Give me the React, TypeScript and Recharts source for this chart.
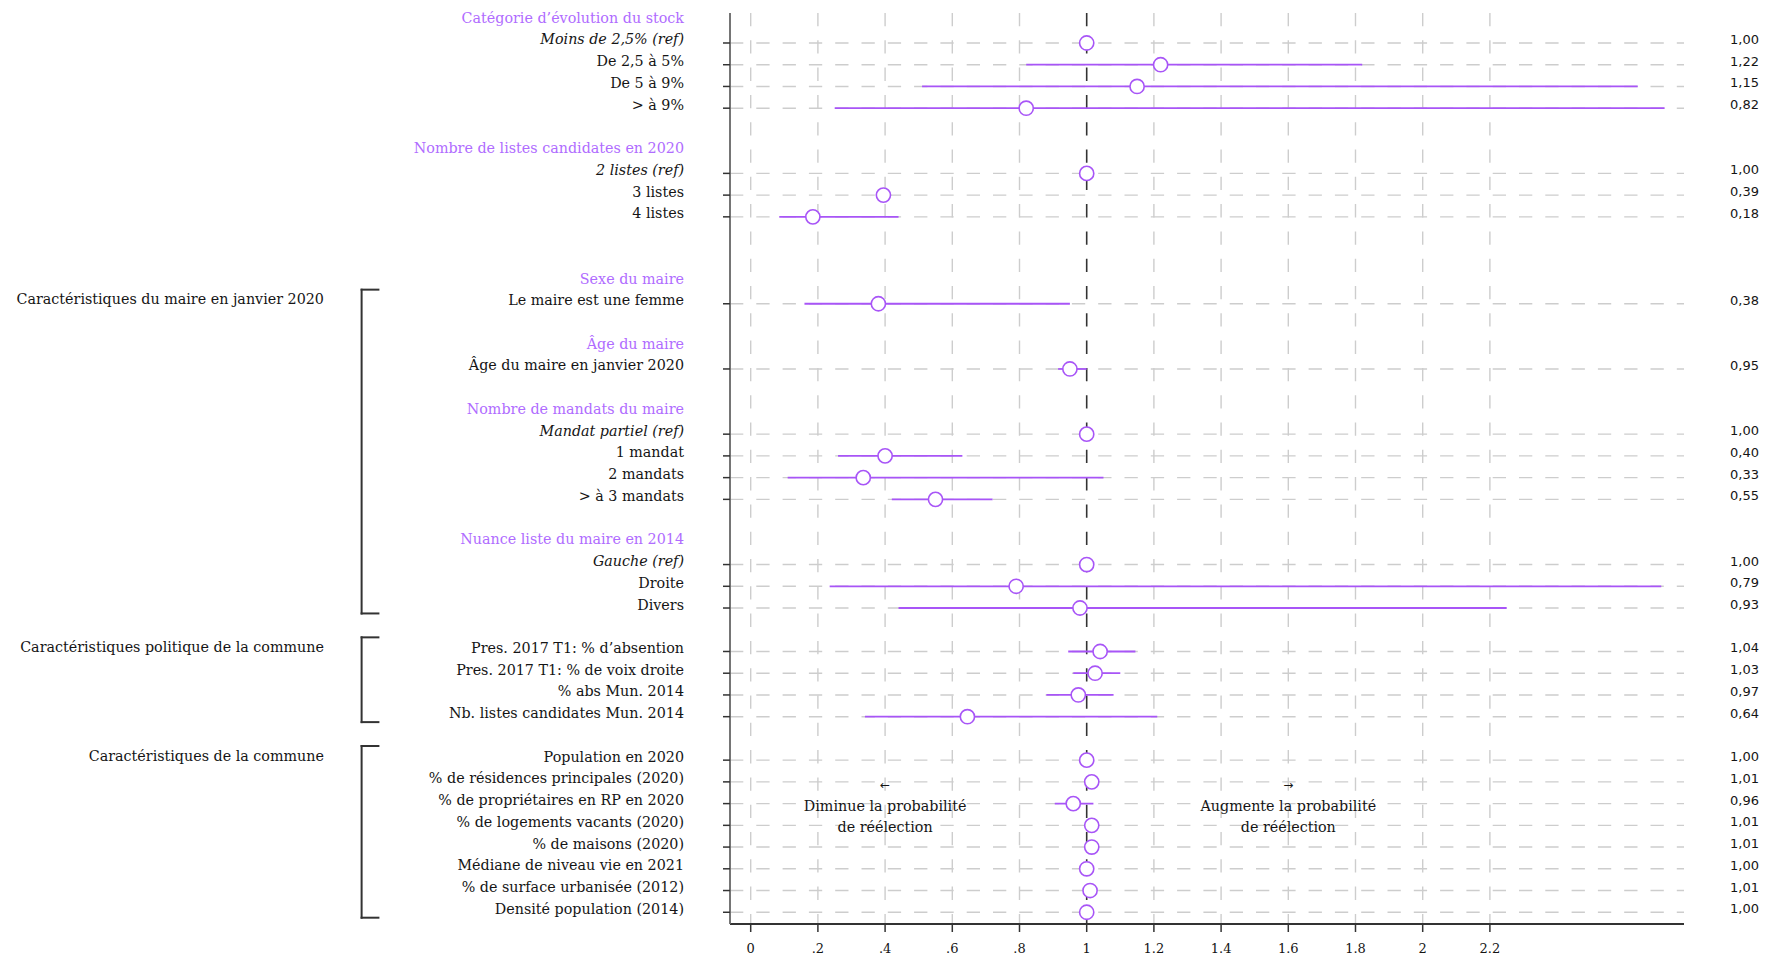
import React from 'react'
import { ScatterChart, Scatter, XAxis, YAxis, CartesianGrid, ErrorBar, ReferenceLine, ReferenceDot } from 'recharts'

// rows from top to bottom, '' is an empty spacer row
const rowLabels = [
  'Catégorie d’évolution du stock',
  'Moins de 2,5% (ref)',
  'De 2,5 à 5%',
  'De 5 à 9%',
  '> à 9%',
  '',
  'Nombre de listes candidates en 2020',
  '2 listes (ref)',
  '3 listes',
  '4 listes',
  '',
  '',
  'Sexe du maire',
  'Le maire est une femme',
  '',
  'Âge du maire',
  'Âge du maire en janvier 2020',
  '',
  'Nombre de mandats du maire',
  'Mandat partiel (ref)',
  '1 mandat',
  '2 mandats',
  '> à 3 mandats',
  '',
  'Nuance liste du maire en 2014',
  'Gauche (ref)',
  'Droite',
  'Divers',
  '',
  'Pres. 2017 T1: % d’absention',
  'Pres. 2017 T1: % de voix droite',
  '% abs Mun. 2014',
  'Nb. listes candidates Mun. 2014',
  '',
  'Population en 2020',
  '% de résidences principales (2020)',
  '% de propriétaires en RP en 2020',
  '% de logements vacants (2020)',
  '% de maisons (2020)',
  'Médiane de niveau vie en 2021',
  '% de surface urbanisée (2012)',
  'Densité population (2014)',
]

const headerLabels = [
  'Catégorie d’évolution du stock',
  'Nombre de listes candidates en 2020',
  'Sexe du maire',
  'Âge du maire',
  'Nombre de mandats du maire',
  'Nuance liste du maire en 2014',
]

const groupLabels = [
  'Caractéristiques du maire en janvier 2020',
  'Caractéristiques politique de la commune',
  'Caractéristiques de la commune',
]
const groupFirst = ['Le maire est une femme', 'Pres. 2017 T1: % d’absention', 'Population en 2020']
const groupLast = ['Divers', 'Nb. listes candidates Mun. 2014', 'Densité population (2014)']

// one value per item row (headers and spacers excluded), in row order
const estimates = [1.0, 1.22, 1.15, 0.82, 1.0, 0.395, 0.185, 0.38, 0.95, 1.0, 0.4, 0.335, 0.55, 1.0, 0.79, 0.98, 1.04, 1.025, 0.975, 0.645, 1.0, 1.015, 0.96, 1.015, 1.015, 1.0, 1.01, 1.0]
const printedOR = [1.0, 1.22, 1.15, 0.82, 1.0, 0.39, 0.18, 0.38, 0.95, 1.0, 0.4, 0.33, 0.55, 1.0, 0.79, 0.93, 1.04, 1.03, 0.97, 0.64, 1.0, 1.01, 0.96, 1.01, 1.01, 1.0, 1.01, 1.0]
const ciLow = [null, 0.82, 0.51, 0.25, null, null, 0.085, 0.16, 0.915, null, 0.26, 0.11, 0.42, null, 0.235, 0.44, 0.945, 0.96, 0.88, 0.34, null, null, 0.905, null, null, null, null, null]
const ciHigh = [null, 1.82, 2.64, 2.72, null, null, 0.44, 0.95, 1.0, null, 0.63, 1.05, 0.72, null, 2.71, 2.25, 1.145, 1.1, 1.08, 1.21, null, null, 1.02, null, null, null, null, null]

const xTicks = [0, 0.2, 0.4, 0.6, 0.8, 1, 1.2, 1.4, 1.6, 1.8, 2, 2.2]

const arrowLabels = ['←', '→']
const arrowX = [0.4, 1.6]
const noteLines = [['Diminue la probabilité', 'de réélection'], ['Augmente la probabilité', 'de réélection']]

const SERIF = "'DejaVu Serif', serif"
const SANS = "'DejaVu Sans', sans-serif"
const PURPLE = '#a855f7'
const HEADER_PURPLE = '#b06cff'
const INK = '#151515'
const FS = 14.3

const X_DOMAIN = [-0.0616, 2.7777]
const Y_DOMAIN = [-0.38, 41.54]
const GROUP_LABEL_X = -1.27
const BRACKET_X = -1.158
const BRACKET_TIP_X = -1.108

const rowOf = (label: string) => rowLabels.indexOf(label)
const itemLabels = rowLabels.filter(l => l && !headerLabels.includes(l))
const yTicks = rowLabels.map((l, i) => (l ? i : -1)).filter(i => i >= 0)

const points = itemLabels.map((label, i) => ({
  row: rowOf(label),
  est: estimates[i],
  lo: ciLow[i],
  hi: ciHigh[i],
}))
const ciPoints = points
  .filter(p => p.lo != null && p.hi != null)
  .map(p => ({ ...p, err: [p.est - (p.lo as number), (p.hi as number) - p.est] }))

const fmtX = (v: number) => String(v).replace(/^0\./, '.')
const fmtOR = (v: number) => v.toFixed(2).replace('.', ',')

const LeftTick = (props: any) => {
  const { x, y, payload } = props
  const label = rowLabels[payload.value]
  if (headerLabels.includes(label)) {
    return (
      <text x={x - 39} y={y + 1.5} textAnchor="end" fill={HEADER_PURPLE} fontFamily={SERIF} fontSize={FS}>
        {label}
      </text>
    )
  }
  return (
    <g>
      <line x1={x} x2={x + 7} y1={y} y2={y} stroke="#333" strokeWidth={1.5} />
      <text x={x - 39} y={y + 1.5} textAnchor="end" fill={INK} fontFamily={SERIF} fontSize={FS}
        fontStyle={label.includes('(ref)') ? 'italic' : 'normal'}>
        {label}
      </text>
    </g>
  )
}

const RightTick = (props: any) => {
  const { x, y, payload } = props
  const label = rowLabels[payload.value]
  const i = itemLabels.indexOf(label)
  if (i < 0) return <g />
  return (
    <text x={x + 46} y={y + 1} textAnchor="start" fill={INK} fontFamily={SANS} fontSize={13}>
      {fmtOR(printedOR[i])}
    </text>
  )
}

const BottomTick = (props: any) => {
  const { x, y, payload } = props
  return (
    <text x={x} y={y + 20.7} textAnchor="middle" fill={INK} fontFamily={SERIF} fontSize={13}>
      {fmtX(payload.value)}
    </text>
  )
}

const gridV = (p: any) => {
  const isOne = xTicks[p.index] === 1
  return (
    <line key={`v${p.index}`} x1={p.x1} y1={p.y1} x2={p.x2} y2={p.y2}
      stroke={isOne ? '#333' : '#cdcdcd'} strokeWidth={isOne ? 1.6 : 1.4} strokeDasharray="13.3 14" />
  )
}

const gridH = (p: any) => {
  if (headerLabels.includes(rowLabels[yTicks[p.index]])) return <g key={`h${p.index}`} />
  return (
    <line key={`h${p.index}`} x1={p.x1} y1={p.y1} x2={p.x2} y2={p.y2}
      stroke="#cdcdcd" strokeWidth={1.4} strokeDasharray="13.3 13" />
  )
}

const App = () => {
  return (
    <div style={{ position: 'absolute', left: 0, top: 0 }}>
      <ScatterChart width={1782} height={957} margin={{ top: 13, right: 0, bottom: 0, left: 0 }}>
        <CartesianGrid vertical={gridV} horizontal={gridH} syncWithTicks />
        <XAxis type="number" dataKey="est" domain={X_DOMAIN} allowDataOverflow ticks={xTicks} interval={0}
          height={33} tickSize={8} tickMargin={0} axisLine={{ stroke: '#333', strokeWidth: 1.8 }}
          tickLine={{ stroke: '#333', strokeWidth: 1.5 }} tick={<BottomTick />} />
        <YAxis type="number" dataKey="row" domain={Y_DOMAIN} allowDataOverflow reversed ticks={yTicks} interval={0}
          width={730} tickSize={7} tickMargin={0} tickLine={false} axisLine={{ stroke: '#666', strokeWidth: 1.8 }}
          tick={<LeftTick />} />
        <YAxis yAxisId="right" orientation="right" type="number" dataKey="row" domain={Y_DOMAIN} allowDataOverflow
          reversed ticks={yTicks} interval={0} width={98} tickSize={0} tickMargin={0} tickLine={false}
          axisLine={false} tick={<RightTick />} />

        <Scatter data={ciPoints} isAnimationActive={false} shape={() => <g />}>
          <ErrorBar dataKey="err" direction="x" width={0} stroke={PURPLE} strokeWidth={1.8} isAnimationActive={false} />
        </Scatter>
        <Scatter data={points} isAnimationActive={false}
          shape={(p: any) => <circle cx={p.cx} cy={p.cy} r={7.1} fill="#fff" stroke={PURPLE} strokeWidth={1.6} />} />

        {groupLabels.map((g, i) => {
          const top = rowOf(groupFirst[i]) - 0.65
          const bottom = rowOf(groupLast[i]) + 0.25
          const line = { stroke: '#333', strokeWidth: 2, strokeLinecap: 'square' as const, ifOverflow: 'visible' as const }
          return [
            <ReferenceLine key={`bt${i}`} segment={[{ x: BRACKET_X, y: top }, { x: BRACKET_TIP_X, y: top }]} {...line} />,
            <ReferenceLine key={`bv${i}`} segment={[{ x: BRACKET_X, y: top }, { x: BRACKET_X, y: bottom }]} {...line} />,
            <ReferenceLine key={`bb${i}`} segment={[{ x: BRACKET_X, y: bottom }, { x: BRACKET_TIP_X, y: bottom }]} {...line} />,
            <ReferenceDot key={`gl${i}`} x={GROUP_LABEL_X} y={rowOf(groupFirst[i]) - 0.2} r={0} ifOverflow="visible"
              shape={(p: any) => (
                <text x={p.cx} y={p.cy + 5} textAnchor="end" fill={INK} fontFamily={SERIF} fontSize={FS}>{g}</text>
              )} />,
          ]
        })}

        {arrowLabels.map((a, i) => [
          <ReferenceDot key={`ar${i}`} x={arrowX[i]} y={35.16} r={0} ifOverflow="visible"
            shape={(p: any) => (
              <text x={p.cx} y={p.cy + 4} textAnchor="middle" fill={INK} fontFamily={SANS} fontSize={12}>{a}</text>
            )} />,
          ...noteLines[i].map((t, j) => (
            <ReferenceDot key={`nt${i}${j}`} x={arrowX[i]} y={36.11 + j * 0.95} r={0} ifOverflow="visible"
              shape={(p: any) => (
                <text x={p.cx} y={p.cy + 5} textAnchor="middle" fill={INK} fontFamily={SERIF} fontSize={FS}>{t}</text>
              )} />
          )),
        ])}
      </ScatterChart>
    </div>
  )
}

export default App
